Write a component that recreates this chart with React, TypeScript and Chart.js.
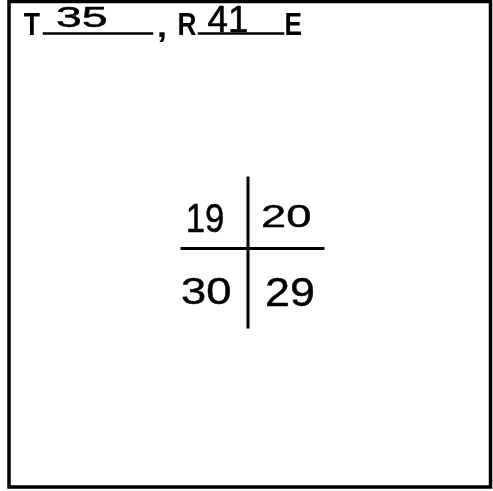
import React, { useEffect, useRef } from "react";
import { Chart, registerables } from "chart.js";

Chart.register(...registerables);

// ---- data ----
const townshipNumber = "35";
const rangeNumber = "41";
const rangeDirection = "E";
const sectionLabels = ["19", "20", "30", "29"];

// ---- layout (scale units = page pixels) ----
const W = 493;
const H = 491;
const borderPts = [
  { x: 9, y: 1.5 },
  { x: 490.5, y: 1.5 },
  { x: 490.5, y: 487 },
  { x: 9, y: 487 },
  { x: 9, y: 1.5 },
];
const crossV = [
  { x: 248, y: 178 },
  { x: 248, y: 327 },
];
const crossH = [
  { x: 182, y: 248.5 },
  { x: 323, y: 248.5 },
];
const underlineT = [
  { x: 44, y: 33.5 },
  { x: 152, y: 33.5 },
];
const underlineR = [
  { x: 199, y: 33.5 },
  { x: 283, y: 33.5 },
];
// boxes: [x0, y0, x1, y1]
const headerBoxes: [number, number, number, number][] = [
  [24, 13, 40, 35], // T
  [57, 7, 106, 28], // township
  [159, 32, 165, 42], // comma
  [179, 13, 196, 35], // R
  [208, 6, 247, 32], // range
  [286, 13, 301, 35], // E
];
const sectionBoxes: [number, number, number, number][] = [
  [188, 203, 223, 233],
  [263, 205, 310, 228],
  [182, 278, 230, 305],
  [267, 277, 313, 307],
];

const FONT = '"Liberation Sans", Arial, sans-serif';

const textPlugin = {
  id: "textPlugin",
  afterDatasetsDraw(chart: any) {
    const { ctx, scales } = chart;
    const px = (v: number) => scales.x.getPixelForValue(v);
    const py = (v: number) => scales.y.getPixelForValue(v);
    ctx.save();
    ctx.fillStyle = "#000";
    ctx.strokeStyle = "#000";
    ctx.lineJoin = "round";
    ctx.lineCap = "round";
    ctx.textBaseline = "alphabetic";
    ctx.textAlign = "left";
    const fit = (t: string, b: [number, number, number, number], weight: string, extra: number) => {
      const x0 = px(b[0]), x1 = px(b[2]);
      const y0 = py(b[1]), y1 = py(b[3]);
      const ref = 100;
      ctx.font = `${weight} ${ref}px ${FONT}`;
      const m = ctx.measureText(t);
      const gw = m.actualBoundingBoxLeft + m.actualBoundingBoxRight;
      const gh = m.actualBoundingBoxAscent + m.actualBoundingBoxDescent;
      const inset = extra / 2;
      const sx = (x1 - x0 - extra) / gw;
      const sy = (y1 - y0 - extra) / gh;
      ctx.save();
      ctx.translate(x0 + inset, y0 + inset);
      ctx.scale(sx, sy);
      ctx.fillText(t, m.actualBoundingBoxLeft, m.actualBoundingBoxAscent);
      if (extra > 0) {
        ctx.lineWidth = extra / Math.sqrt(sx * sy);
        ctx.strokeText(t, m.actualBoundingBoxLeft, m.actualBoundingBoxAscent);
      }
      ctx.restore();
    };
    const header = ["T", townshipNumber, ",", "R", rangeNumber, rangeDirection];
    header.forEach((t, i) => {
      const isNum = t === townshipNumber || t === rangeNumber;
      fit(t, headerBoxes[i], isNum ? "normal" : "bold", isNum ? 0.6 : 0);
    });
    sectionLabels.forEach((s, i) => fit(s, sectionBoxes[i], "normal", 0.5));
    ctx.restore();
  },
};

const line = (data: any[], width: number) => ({
  data,
  showLine: true,
  borderColor: "#000",
  backgroundColor: "#000",
  borderWidth: width,
  pointRadius: 0,
  borderCapStyle: "square",
  borderJoinStyle: "miter",
  tension: 0,
});

export default function App() {
  const ref = useRef<HTMLCanvasElement | null>(null);
  useEffect(() => {
    if (!ref.current) return;
    const chart = new Chart(ref.current, {
      type: "scatter",
      data: {
        datasets: [
          line(borderPts, 3.5),
          line(crossV, 3),
          line(crossH, 3),
          line(underlineT, 2.5),
          line(underlineR, 2.5),
        ] as any,
      },
      options: {
        animation: false,
        responsive: false,
        layout: { padding: 0 },
        plugins: { legend: { display: false }, tooltip: { enabled: false } },
        scales: {
          x: { type: "linear", min: 0, max: W, display: false },
          y: { type: "linear", min: 0, max: H, reverse: true, display: false },
        },
      },
      plugins: [textPlugin],
    });
    return () => chart.destroy();
  }, []);
  return (
    <div style={{ position: "fixed", left: 0, top: 0, width: W, height: H, background: "#fff" }}>
      <canvas ref={ref} width={W} height={H} style={{ width: W, height: H, display: "block" }} />
    </div>
  );
}
